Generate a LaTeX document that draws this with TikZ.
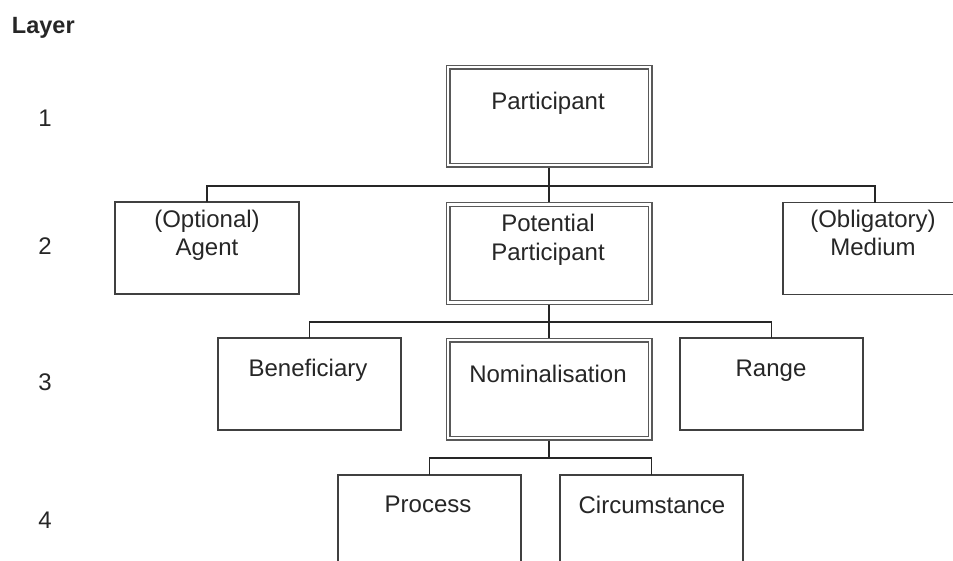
\documentclass[tikz,border=0pt]{standalone}
\usepackage{fontspec}
\setmainfont{Liberation Sans}
\begin{document}
\begin{tikzpicture}[x=1pt,y=-1pt,
  every node/.style={inner sep=0pt, outer sep=0pt},
  txt/.style={font=\fontsize{24}{28.5}\selectfont, text=black!85, align=center, anchor=base},
  sbox/.style={draw=black!75, line width=1.4pt, minimum width=183pt, minimum height=92pt},
  dbox/.style={draw=black!65, line width=1.3pt, double=white, double distance=2.4pt,
               minimum width=202pt, minimum height=98pt, outer sep=2.5pt},
  conn/.style={draw=black!85, line width=1.4pt}]
\clip (0,0) rectangle (953,560);
\useasboundingbox (0,0) rectangle (953,560);
\fill[white] (0,0) rectangle (953,560);

% layer labels
\node[txt, anchor=base west, font=\fontsize{23.5}{28.5}\selectfont\bfseries] (layer) at (12,33) {Layer};
\node[txt] (l1) at (45,126.5) {1};
\node[txt] (l2) at (45,254.5) {2};
\node[txt] (l3) at (45,390.5) {3};
\node[txt] (l4) at (45,528.5) {4};

% boxes
\node[dbox] (part) at (549,116) {};
\node[dbox] (pp) at (549,253.5) {};
\node[dbox] (nom) at (549,389) {};
\node[sbox, minimum width=184pt] (agent) at (207,248) {};
\node[sbox, minimum width=184pt] (med) at (875,248.5) {};
\node[sbox] (ben) at (309.5,384) {};
\node[sbox] (rng) at (771.5,384) {};
\node[sbox] (proc) at (429.5,521) {};
\node[sbox] (circ) at (651.5,521) {};

% texts (base anchor of a multi-line node = last line's baseline)
\node[txt] (tpart) at (548,109) {Participant};
\node[txt] (tpp) at (548,260) {Potential\\Participant};
\node[txt] (tnom) at (548,382) {Nominalisation};
\node[txt] (tagent) at (207,255.5) {(Optional)\\Agent};
\node[txt] (tmed) at (873,255.5) {(Obligatory)\\Medium};
\node[txt] (tben) at (308,376) {Beneficiary};
\node[txt] (trng) at (771,376) {Range};
\node[txt] (tproc) at (428,512) {Process};
\node[txt] (tcirc) at (652,513) {Circumstance};

% bus coordinates
\coordinate (bus2) at (549,186);
\coordinate (bus3) at (549,322);
\coordinate (bus4) at (549,458);

% connectors
\draw[conn] (part.south) -- (pp.north);
\draw[conn] (agent.north) |- (bus2) -| (med.north);
\draw[conn] (pp.south) -- (nom.north);
\draw[conn] (ben.north) |- (bus3) -| (rng.north);
\draw[conn] (nom.south) -- (bus4);
\draw[conn] (proc.north) |- (bus4) -| (circ.north);
\end{tikzpicture}
\end{document}
